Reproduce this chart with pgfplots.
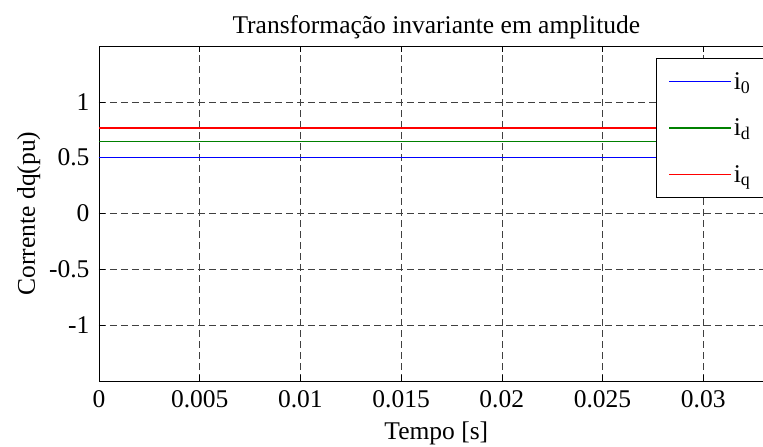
\documentclass[border=0pt]{standalone}
\usepackage{fontspec}
\setmainfont{Liberation Serif}
\usepackage{pgfplots}
\pgfplotsset{compat=1.18}

\definecolor{lineblue}{rgb}{0,0,1}
\definecolor{linegreen}{rgb}{0,0.5,0}
\definecolor{linered}{rgb}{1,0,0}

\newcommand\chartfont{\fontsize{25.5}{30}\selectfont}

\begin{document}
\begin{tikzpicture}
\begin{axis}[
  at={(0,0)}, anchor=south west,
  scale only axis,
  width=674.7pt, height=335pt,
  xmin=0, xmax=0.0335,
  ymin=-1.5, ymax=1.5,
  axis line style={black, line width=0.8pt},
  scaled x ticks=false,
  xtick={0,0.005,0.01,0.015,0.02,0.025,0.03},
  xticklabels={0,0.005,0.01,0.015,0.02,0.025,0.03},
  ytick={-1,-0.5,0,0.5,1},
  yticklabels={-1,-0.5,0,0.5,1},
  tick align=inside,
  major tick length=6pt,
  tick style={black, line width=0.6pt},
  xmajorgrids, ymajorgrids,
  major grid style={black!75, line width=0.6pt, dash pattern=on 7pt off 4pt},
  tick label style={font=\chartfont},
  /pgf/number format/assume math mode=true,
  xticklabel style={yshift=-6pt},
  yticklabel style={xshift=-6pt},
  label style={font=\chartfont},
  xlabel={Tempo [s]},
  ylabel={Corrente dq(pu)},
  xlabel style={yshift=-7pt},
  ylabel style={yshift=2pt},
  title={Transformação invariante em amplitude},
  title style={font=\chartfont, yshift=-2pt},
  legend style={
    at={(rel axis cs:1,1)}, anchor=north east,
    xshift=-9pt, yshift=-12pt,
    draw=black, line width=0.8pt, fill=white,
    font=\chartfont,
    inner xsep=12pt, inner ysep=12pt,
    row sep=24pt,
    nodes={inner sep=2pt},
  },
  legend cell align=left,
  legend image code/.code={\draw[#1] (0pt,0pt) -- (62pt,0pt);},
]
% constant currents of the dq0 frame over the simulated interval
\addplot[draw=lineblue, line width=1.2pt] coordinates {(0,0.5) (0.0335,0.5)};
\addlegendentry{i\textsubscript{0}}
\addplot[draw=linegreen, line width=1.2pt] coordinates {(0,0.643) (0.0335,0.643)};
\addlegendentry{i\textsubscript{d}}
\addplot[draw=linered, line width=1.2pt] coordinates {(0,0.766) (0.0335,0.766)};
\addlegendentry{i\textsubscript{q}}
\end{axis}
\pgfresetboundingbox
\path[use as bounding box] (-99pt,-66pt) rectangle (664pt,381pt);
\end{tikzpicture}
\end{document}
